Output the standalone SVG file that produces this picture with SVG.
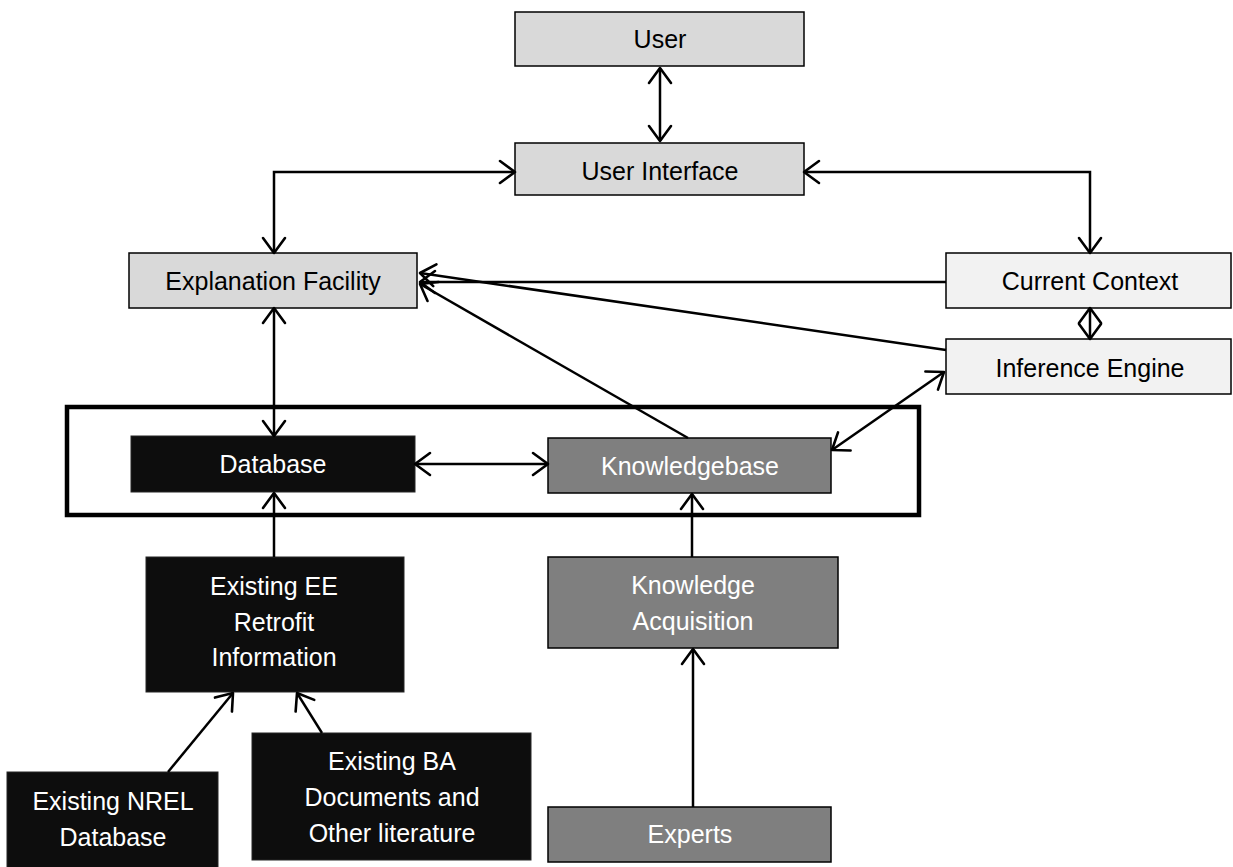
<svg xmlns="http://www.w3.org/2000/svg" width="1233" height="867" viewBox="0 0 1233 867">
<style>
text{font-family:"Liberation Sans",Arial,sans-serif;font-size:25px;text-anchor:middle}
.lt rect{fill:#d9d9d9;stroke:#000;stroke-width:1.5}
.vl rect{fill:#f2f2f2;stroke:#000;stroke-width:1.5}
.bk rect{fill:#0d0d0d;stroke:#262626;stroke-width:1}
.gr rect{fill:#7f7f7f;stroke:#000;stroke-width:1.5}
.lt text,.vl text{fill:#000}
.bk text,.gr text{fill:#fff}
.c{fill:none;stroke:#000;stroke-width:2.5}
.e{marker-end:url(#ah)}
.b{marker-start:url(#ah);marker-end:url(#ah)}
</style>
<defs>
<marker id="ah" markerUnits="userSpaceOnUse" viewBox="-19 -14 22 28" markerWidth="22" markerHeight="28" refX="0" refY="0" orient="auto-start-reverse">
<path d="M-15,-11 L0,0 L-15,11" fill="none" stroke="#000" stroke-width="2.6" stroke-linejoin="round" stroke-linecap="round"/>
</marker>
</defs>
<rect id="boundary" x="67" y="407" width="852" height="108" fill="none" stroke="#000" stroke-width="4.5"/>
<g id="user" class="lt"><rect x="515" y="12" width="289" height="54"/><text x="660" y="48">User</text></g>
<g id="user-interface" class="lt"><rect x="515" y="143" width="289" height="52"/><text x="660" y="180">User Interface</text></g>
<g id="explanation-facility" class="lt"><rect x="129" y="253" width="288" height="55"/><text x="273" y="290">Explanation Facility</text></g>
<g id="current-context" class="vl"><rect x="946" y="253" width="285" height="55"/><text x="1090" y="290">Current Context</text></g>
<g id="inference-engine" class="vl"><rect x="946" y="339" width="285" height="55"/><text x="1090" y="377">Inference Engine</text></g>
<g id="database" class="bk"><rect x="131" y="436" width="284" height="56"/><text x="273" y="473">Database</text></g>
<g id="knowledgebase" class="gr"><rect x="548" y="438" width="283" height="55"/><text x="690" y="475">Knowledgebase</text></g>
<g id="existing-ee" class="bk"><rect x="146" y="557" width="258" height="135"/><text x="274" y="595">Existing EE</text><text x="274" y="631">Retrofit</text><text x="274" y="666">Information</text></g>
<g id="knowledge-acquisition" class="gr"><rect x="548" y="557" width="290" height="91"/><text x="693" y="594">Knowledge</text><text x="693" y="630">Acquisition</text></g>
<g id="nrel" class="bk"><rect x="7" y="772" width="211" height="100"/><text x="113" y="810">Existing NREL</text><text x="113" y="846">Database</text></g>
<g id="ba-docs" class="bk"><rect x="252" y="733" width="279" height="127"/><text x="392" y="770">Existing BA</text><text x="392" y="806">Documents and</text><text x="392" y="842">Other literature</text></g>
<g id="experts" class="gr"><rect x="548" y="807" width="283" height="55"/><text x="690" y="843">Experts</text></g>
<g id="connectors">
<path class="c b" d="M660,68 V141"/>
<path class="c b" d="M515,172 H274 V253"/>
<path class="c b" d="M804,172 H1090 V253"/>
<path class="c e" d="M946,282 H420"/>
<path class="c e" d="M946,350 L420,273"/>
<path class="c e" d="M688,438 L420,284"/>
<path class="c b" d="M1090,308 V339"/>
<path class="c b" d="M274,308 V436"/>
<path class="c b" d="M415,464 H548"/>
<path class="c b" d="M832,450 L944,372"/>
<path class="c e" d="M274,557 V493"/>
<path class="c e" d="M692,557 V494"/>
<path class="c e" d="M693,807 V649"/>
<path class="c e" d="M168,772 L233,693"/>
<path class="c e" d="M322,733 L297,693"/>
</g>
</svg>
